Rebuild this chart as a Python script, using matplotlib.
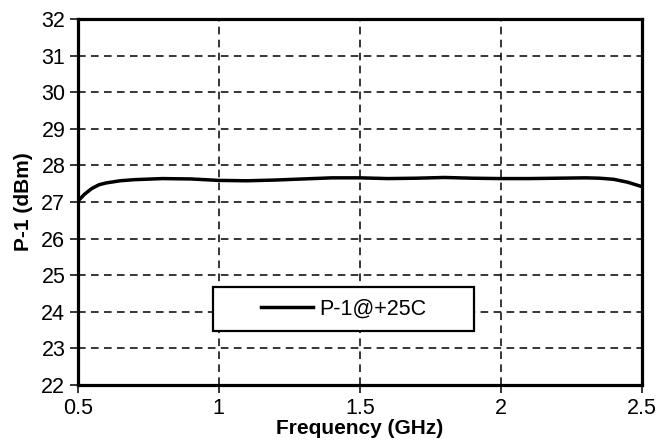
import matplotlib.pyplot as plt
from matplotlib.patches import Rectangle

plt.rcParams['font.family'] = ['Liberation Sans', 'DejaVu Sans']

# Datos
freq = [0.5, 0.525, 0.55, 0.575, 0.6, 0.65, 0.7, 0.8, 0.9, 1.0, 1.1, 1.2, 1.3,
        1.4, 1.5, 1.6, 1.7, 1.8, 1.9, 2.0, 2.1, 2.2, 2.3, 2.35, 2.4, 2.45, 2.5]
p1_25c = [27.02, 27.22, 27.37, 27.47, 27.52, 27.58, 27.61, 27.64, 27.63, 27.59,
          27.58, 27.6, 27.63, 27.66, 27.66, 27.64, 27.65, 27.67, 27.65, 27.64,
          27.64, 27.65, 27.66, 27.65, 27.62, 27.54, 27.42]
xticks = [0.5, 1, 1.5, 2, 2.5]
xtick_labels = ['0.5', '1', '1.5', '2', '2.5']
yticks = list(range(22, 33))

fig = plt.figure(figsize=(6.59, 4.48), dpi=100)
ax = fig.add_axes([0.118, 0.1406, 0.856, 0.817])

ax.plot(freq, p1_25c, color='black', lw=2.5, label='P-1@+25C', zorder=3,
        solid_joinstyle='round')

ax.set_xlim(0.5, 2.5)
ax.set_ylim(22, 32)
ax.set_xticks(xticks)
ax.set_xticklabels(xtick_labels)
ax.set_yticks(yticks)
ax.tick_params(direction='out', length=6, width=1.1, labelsize=15.5, colors='black',
               pad=3)
ax.grid(True, color='black', lw=1.1, linestyle=(0, (5, 3.5)))
for s in ax.spines.values():
    s.set_linewidth(2.3)

ax.set_xlabel('Frequency (GHz)', fontsize=15, fontweight='bold', labelpad=0)
ax.set_ylabel('P-1 (dBm)', fontsize=15, fontweight='bold', labelpad=6)

# Caja de la leyenda
ax.add_patch(Rectangle((0.24, 0.1475), 0.463, 0.12, transform=ax.transAxes,
                       facecolor='white', edgecolor='black', lw=1.6, zorder=4))
leg = ax.legend(loc='center', bbox_to_anchor=(0.4715, 0.2075), frameon=False,
                fontsize=15.5, handlelength=2.4, handletextpad=0.3)
leg.set_zorder(5)

fig.savefig('out.png', dpi=100)
